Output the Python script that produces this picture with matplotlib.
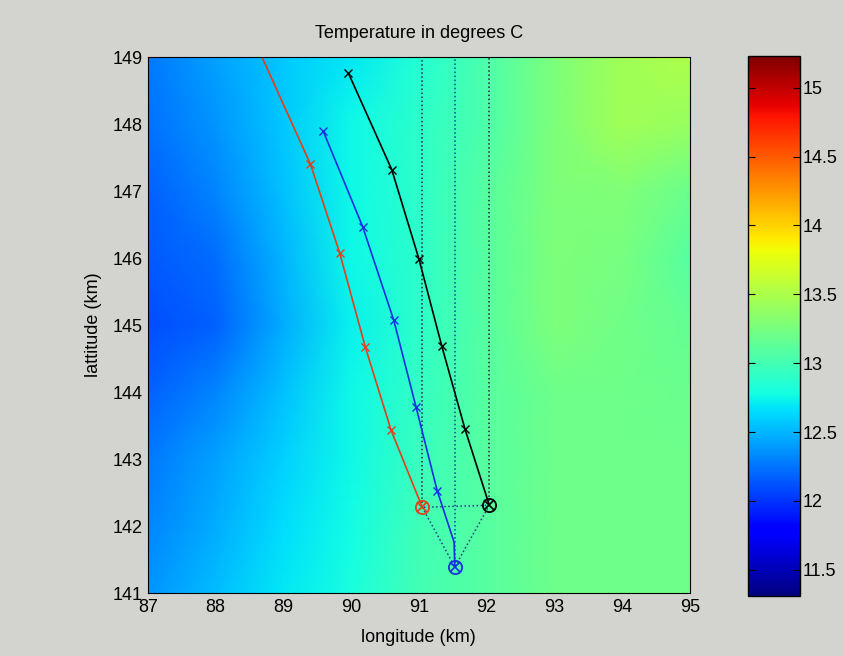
import numpy as np
import matplotlib.pyplot as plt

lon = [87, 88, 89, 90, 91, 92, 93, 94, 95]
lat = [141, 142, 143, 144, 145, 146, 147, 148, 149]
temp = [
    [12.38, 12.52, 12.70, 12.80, 13.00, 13.10, 13.20, 13.20, 13.20],  # 141
    [12.32, 12.47, 12.65, 12.78, 12.98, 13.10, 13.20, 13.20, 13.20],  # 142
    [12.27, 12.42, 12.60, 12.75, 12.95, 13.10, 13.20, 13.20, 13.20],  # 143
    [12.17, 12.32, 12.55, 12.75, 12.92, 13.10, 13.20, 13.20, 13.18],  # 144
    [12.10, 12.18, 12.47, 12.72, 12.90, 13.10, 13.28, 13.22, 13.15],  # 145
    [12.14, 12.22, 12.50, 12.75, 12.90, 13.10, 13.28, 13.25, 13.10],  # 146
    [12.17, 12.32, 12.55, 12.75, 12.90, 13.10, 13.28, 13.30, 13.18],  # 147
    [12.24, 12.37, 12.57, 12.75, 12.90, 13.05, 13.28, 13.45, 13.40],  # 148
    [12.27, 12.42, 12.57, 12.70, 12.85, 13.05, 13.28, 13.45, 13.50],  # 149
]
clim = (11.31, 15.23)

# float trajectories (start point first)
red_x = [91.05, 90.59, 90.21, 89.83, 89.40, 88.55]
red_y = [142.28, 143.43, 144.67, 146.08, 147.40, 149.30]
blue_x = [91.53, 91.52, 91.27, 90.96, 90.63, 90.17, 89.59]
blue_y = [141.39, 141.76, 142.53, 143.77, 145.07, 146.47, 147.89]
black_x = [92.04, 91.68, 91.34, 91.00, 90.60, 89.96]
black_y = [142.31, 143.45, 144.68, 145.99, 147.32, 148.76]
blue_marks = [2, 3, 4, 5, 6]

bg = '#d3d4cf'
plt.rcParams['font.family'] = ['Liberation Sans', 'DejaVu Sans']
fig = plt.figure(figsize=(8.45, 6.56), dpi=100, facecolor=bg)
ax = fig.add_axes([0.175, 0.096, 0.6414, 0.817])
cax = fig.add_axes([0.885, 0.0915, 0.0615, 0.823])

X, Y = np.meshgrid(lon, lat)
pc = ax.pcolormesh(X, Y, np.array(temp), cmap='jet', shading='gouraud',
                   vmin=clim[0], vmax=clim[1])

# straight-line reference paths and initial triangle
ax.plot([red_x[0], red_x[0]], [red_y[0], 149], ':', color='#1a2a3a', lw=1.1)
ax.plot([blue_x[0], blue_x[0]], [blue_y[0], 149], ':', color='#2030c0', lw=1.1)
ax.plot([black_x[0], black_x[0]], [black_y[0], 149], ':', color='#1a2a3a', lw=1.1)
ax.plot([red_x[0], blue_x[0], black_x[0], red_x[0]],
        [red_y[0], blue_y[0], black_y[0], red_y[0]], ':', color='#20407a', lw=1.1)

ax.plot(red_x, red_y, '-', color='#e0401c', lw=1.2)
ax.plot(red_x[1:], red_y[1:], 'x', color='#e0401c', ms=6)
ax.plot(blue_x, blue_y, '-', color='#1530e0', lw=1.2)
ax.plot([blue_x[i] for i in blue_marks], [blue_y[i] for i in blue_marks],
        'x', color='#1530e0', ms=6)
ax.plot(black_x, black_y, '-', color='k', lw=1.2)
ax.plot(black_x[1:], black_y[1:], 'x', color='k', ms=6)

for x0, y0, c in [(red_x[0], red_y[0], '#e0401c'), (blue_x[0], blue_y[0], '#1530e0'),
                  (black_x[0], black_y[0], 'k')]:
    ax.plot(x0, y0, 'o', mfc='none', mec=c, ms=9.5, mew=1.3)
    ax.plot(x0, y0, 'x', color=c, ms=6.5, mew=1.2)

ax.set_xlim(87, 95)
ax.set_ylim(141, 149)
ax.set_xticks(lon)
ax.set_yticks(lat)
ax.tick_params(length=0, labelsize=13, pad=4)
ax.set_xlabel('longitude (km)', fontsize=13, labelpad=10)
ax.set_ylabel('lattitude (km)', fontsize=13, labelpad=7)
ax.set_title('Temperature in degrees C', fontsize=13, pad=14)

cb = fig.colorbar(pc, cax=cax)
cb.set_ticks([11.5, 12, 12.5, 13, 13.5, 14, 14.5, 15])
cb.set_ticklabels(['11.5', '12', '12.5', '13', '13.5', '14', '14.5', '15'])
cax.tick_params(direction='in', left=True, right=True, length=5, labelsize=13, pad=2)
cb.outline.set_linewidth(1)

fig.savefig('out.png', dpi=100, facecolor=bg)
